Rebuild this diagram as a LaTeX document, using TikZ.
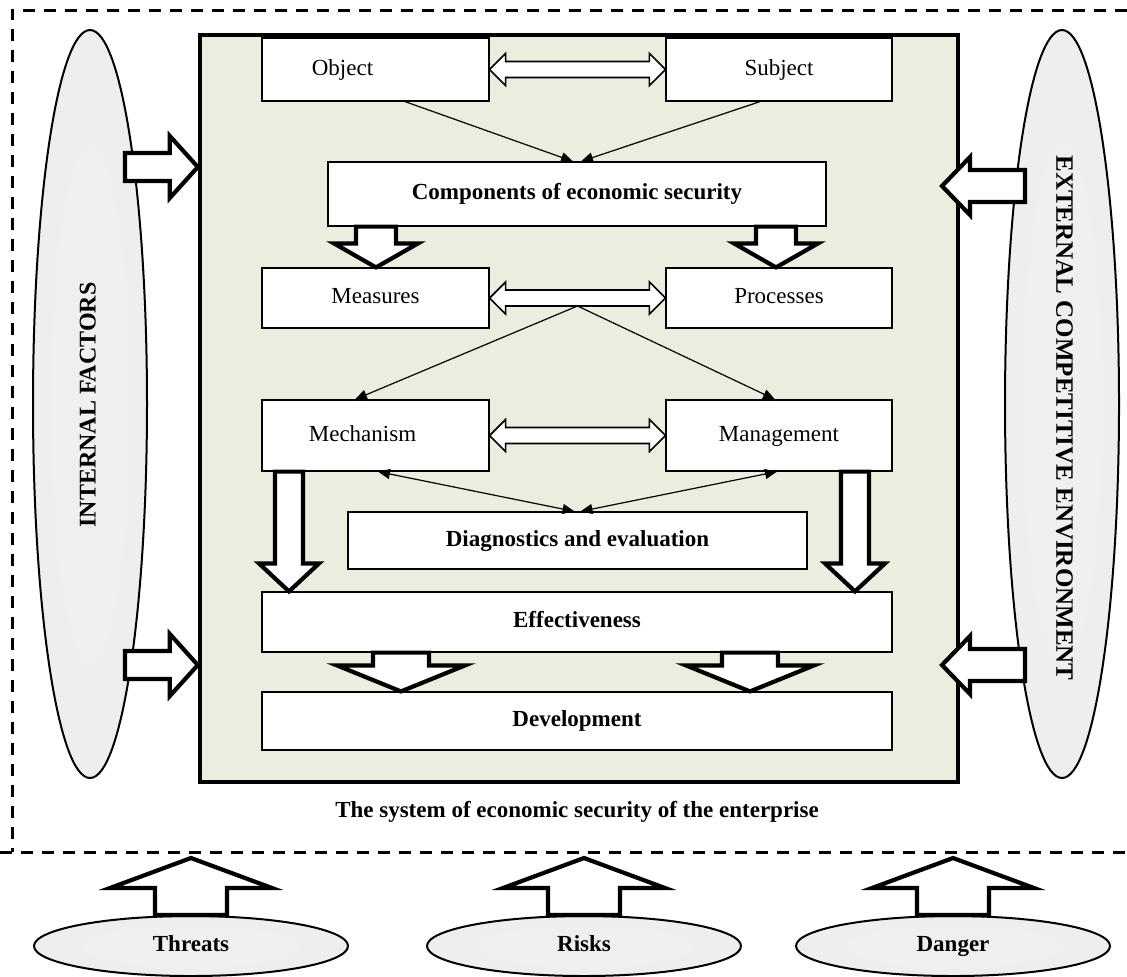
\documentclass[tikz,border=0pt]{standalone}
\usepackage{fontspec}
\setmainfont{Liberation Serif}
\usetikzlibrary{arrows.meta,calc,fit,shapes.geometric}

\definecolor{sysgreen}{RGB}{235,238,222}
\pgfdeclareradialshading{ovalshade}{\pgfpoint{0bp}{0bp}}{color(0bp)=(gray!12); color(37bp)=(gray!14); color(46bp)=(gray!27); color(50bp)=(gray!60)}

\tikzset{
  box/.style={draw, fill=white, line width=0.6pt, inner sep=0pt},
  lbl/.style={text height=8pt, text depth=2.4pt, inner sep=0pt},
  oval/.style={ellipse, draw, line width=1pt, shading=ovalshade, inner sep=0pt,
    text height=8pt, text depth=2.4pt},
  hollow/.style={draw, fill=white, line width=2.1pt, line join=miter},
  hollowthin/.style={draw, fill=white, line width=0.8pt, line join=miter},
  thinarrow/.style={line width=0.6pt, -{Triangle[length=6pt,width=5pt]}},
  thinboth/.style={line width=0.6pt, {Triangle[length=6pt,width=5pt]}-{Triangle[length=6pt,width=5pt]}}
}

\begin{document}
\begin{tikzpicture}[x=0.5pt, y=-0.5pt, font=\fontsize{11.5}{13.8}\selectfont]

\newcommand\blockarrow[5]{% from, to, shaft half, head half, head length
  \coordinate (ba) at ($#2!#5!#1$);
  \draw[hollow] ($#1!#3!90:#2$) -- ($(ba)!#3!90:#2$) -- ($(ba)!#4!90:#2$)
    -- #2 -- ($(ba)!#4!-90:#2$) -- ($(ba)!#3!-90:#2$) -- ($#1!#3!-90:#2$) -- cycle;}
\newcommand\dblarrow[5]{% two heads
  \coordinate (da) at ($#1!#5!#2$);
  \coordinate (db) at ($#2!#5!#1$);
  \draw[hollowthin] #1 -- ($(da)!#4!90:#2$) -- ($(da)!#3!90:#2$)
    -- ($(db)!#3!-90:#1$) -- ($(db)!#4!-90:#1$) -- #2
    -- ($(db)!#4!90:#1$) -- ($(db)!#3!90:#1$)
    -- ($(da)!#3!-90:#2$) -- ($(da)!#4!-90:#2$) -- cycle;}

\useasboundingbox (0,0) rectangle (1127,976);

%% dashed frame
\draw[line width=1.5pt, dash pattern=on 6pt off 4.5pt] (1127,10) -- (12,10) -- (12,852);
\draw[line width=1.5pt, dash pattern=on 6pt off 4.5pt] (0,852) -- (1127,852);

%% side factors
\node[oval, minimum width=57pt, minimum height=374pt] (intf) at (90,404) {};
\node[oval, minimum width=57pt, minimum height=374pt] (extf) at (1062,404) {};
\node[lbl, rotate=90, font=\fontsize{12}{14}\selectfont\bfseries] (intt) at (90,405) {INTERNAL FACTORS};
\node[lbl, rotate=-90, font=\fontsize{12.5}{14}\selectfont\bfseries] (extt) at (1062,418) {EXTERNAL COMPETITIVE ENVIRONMENT};

%% the system
\node[draw, line width=2.2pt, fill=sysgreen, inner sep=0pt, fit={(200,35) (958,782)}] (sys) {};

\node[box, fit={(262,38) (489,101)}, label={[lbl, xshift=-16.5pt]center:Object}] (obj) {};
\node[box, fit={(666,38) (892,101)}, label={[lbl]center:Subject}] (subj) {};
\node[box, fit={(328,162) (826,226)}, label={[lbl]center:\bfseries Components of economic security}] (comp) {};
\node[box, fit={(262,268) (489,328)}, label={[lbl]center:Measures}] (meas) {};
\node[box, fit={(666,268) (892,328)}, label={[lbl]center:Processes}] (proc) {};
\node[box, fit={(262,400) (489,471)}, label={[lbl, xshift=-6.5pt]center:Mechanism}] (mech) {};
\node[box, fit={(666,400) (892,471)}, label={[lbl]center:Management}] (mana) {};
\node[box, fit={(348,512) (807,569)}, label={[lbl]center:\bfseries Diagnostics and evaluation}] (diag) {};
\node[box, fit={(262,592) (892,652)}, label={[lbl]center:\bfseries Effectiveness}] (eff) {};
\node[box, fit={(262,692) (892,750)}, label={[lbl]center:\bfseries Development}] (dev) {};

\node[lbl] (cap) at (577,812) {\bfseries The system of economic security of the enterprise};

%% thin links
\draw[thinarrow] (405,0 |- obj.south) -- ($(comp.north)+(-4,0)$);
\draw[thinarrow] (760,0 |- subj.south) -- ($(comp.north)+(4,0)$);
\coordinate (mp) at ($(meas.east)!.5!(proc.west)+(0,8)$);
\draw[thinarrow] (mp) -- (355,0 |- mech.north);
\draw[thinarrow] (mp) -- (775,0 |- mana.north);
\draw[thinboth] (378,0 |- mech.south) -- ($(diag.north)+(-3,0)$);
\draw[thinboth] (777,0 |- mana.south) -- ($(diag.north)+(3,0)$);

%% hollow double arrows
\dblarrow{(obj.east)}{(subj.west)}{4pt}{8pt}{8pt}
\dblarrow{(meas.east)}{(proc.west)}{4pt}{8pt}{8pt}
\dblarrow{(mech.east)}{(mana.west)}{4pt}{8pt}{8pt}

%% block arrows inside
\blockarrow{(376,0 |- comp.south)}{(376,0 |- meas.north)}{10pt}{21pt}{12pt}
\blockarrow{(776,0 |- comp.south)}{(776,0 |- proc.north)}{10pt}{21pt}{12pt}
\blockarrow{(289,0 |- mech.south)}{(289,0 |- eff.north)}{7pt}{15pt}{14pt}
\blockarrow{(855,0 |- mana.south)}{(855,0 |- eff.north)}{7pt}{15pt}{14pt}
\blockarrow{(401,0 |- eff.south)}{(401,0 |- dev.north)}{14pt}{32pt}{13pt}
\blockarrow{(750,0 |- eff.south)}{(750,0 |- dev.north)}{14pt}{32pt}{13pt}

%% factors acting on the system
\coordinate (il1) at (125,167);
\coordinate (il2) at (125,665);
\coordinate (er1) at (1025,186);
\coordinate (er2) at (1025,665);
\blockarrow{(il1)}{(sys.west |- il1)}{7pt}{15.5pt}{14pt}
\blockarrow{(il2)}{(sys.west |- il2)}{7pt}{15.5pt}{14pt}
\blockarrow{(er1)}{(942,0 |- er1)}{8pt}{14.5pt}{14pt}
\blockarrow{(er2)}{(942,0 |- er2)}{8pt}{14.5pt}{14pt}

%% outer influences
\node[oval, minimum width=157pt, minimum height=30pt] (thr) at (191,946) {\bfseries Threats};
\node[oval, minimum width=157pt, minimum height=30pt] (risk) at (584,946) {\bfseries Risks};
\node[oval, minimum width=157pt, minimum height=30pt] (dang) at (953,946) {\bfseries Danger};
\coordinate (thrtip) at ($(thr.north)+(0,-57)$);
\coordinate (risktip) at ($(risk.north)+(0,-57)$);
\coordinate (dangtip) at ($(dang.north)+(0,-57)$);
\blockarrow{(thr.north)}{(thrtip)}{18pt}{40.5pt}{15pt}
\blockarrow{(risk.north)}{(risktip)}{18pt}{40.5pt}{15pt}
\blockarrow{(dang.north)}{(dangtip)}{18pt}{40.5pt}{15pt}

\end{tikzpicture}
\end{document}
